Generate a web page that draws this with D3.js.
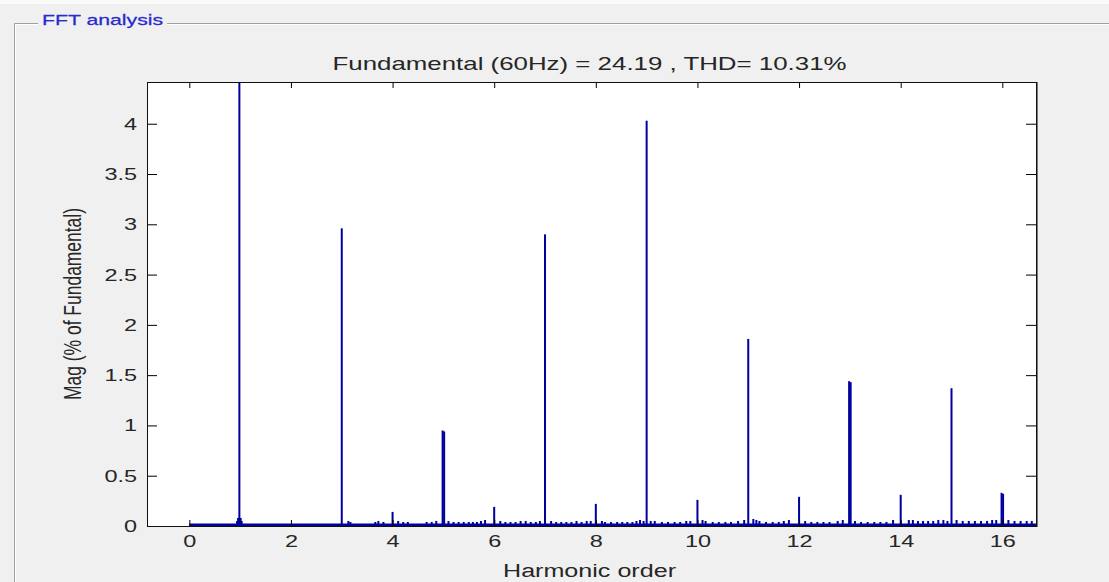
<!DOCTYPE html>
<html><head><meta charset="utf-8">
<script src="https://cdn.jsdelivr.net/npm/d3@7"></script>
<style>html,body{margin:0;padding:0;background:#f0f0f0;overflow:hidden}</style>
</head><body><svg id="c" width="1109" height="582"></svg>
<script>
// ---- data ----
const panelTitle = "FFT analysis";
const titleText = "Fundamental (60Hz) = 24.19 , THD= 10.31%";
const xLabel = "Harmonic order";
const yLabel = "Mag (% of Fundamental)";
const xTickValues = [0, 2, 4, 6, 8, 10, 12, 14, 16];
const yTickValues = [0, 0.5, 1, 1.5, 2, 2.5, 3, 3.5, 4];
const yTickLabels = ["0", "0.5", "1", "1.5", "2", "2.5", "3", "3.5", "4"];
const xLimits = [-0.833, 16.663];
const yLimits = [0, 4.415];

// main harmonic lines (% of fundamental)
const harmonicOrders = [0.985, 3, 4, 4.985, 5.015, 6, 7, 8, 9, 10, 11, 12, 12.985, 13.015, 14, 15, 15.985, 16.015];
const harmonicMags   = [100, 2.96, 0.14, 0.95, 0.94, 0.19, 2.90, 0.22, 4.03, 0.26, 1.86, 0.29, 1.44, 1.43, 0.31, 1.37, 0.33, 0.32];

// leakage around the fundamental
const leakageOrders = [0.94, 0.96, 1.01, 1.03];
const leakageMags   = [0.05, 0.08, 0.08, 0.05];

// small interharmonic components
const noiseOrders = [
  3.13, 3.17, 3.66, 3.72, 3.82,
  4.11, 4.21, 4.30, 4.67, 4.77, 4.86,
  5.10, 5.20, 5.30, 5.40, 5.50, 5.58, 5.66, 5.74, 5.82,
  6.12, 6.22, 6.32, 6.42, 6.52, 6.62, 6.72, 6.82, 6.90,
  7.12, 7.22, 7.32, 7.42, 7.52, 7.62, 7.72, 7.82, 7.90,
  8.12, 8.18, 8.30, 8.42, 8.52, 8.62, 8.72, 8.80, 8.87, 8.94,
  9.08, 9.16, 9.30, 9.42, 9.55, 9.66, 9.78, 9.86,
  10.10, 10.16, 10.30, 10.42, 10.55, 10.66, 10.80, 10.92,
  11.10, 11.16, 11.22, 11.35, 11.48, 11.60, 11.70, 11.80,
  12.12, 12.24, 12.36, 12.48, 12.60, 12.76, 12.86,
  13.10, 13.22, 13.35, 13.48, 13.60, 13.72, 13.85,
  14.16, 14.24, 14.34, 14.44, 14.54, 14.64, 14.74, 14.84, 14.92,
  15.10, 15.22, 15.34, 15.46, 15.58, 15.70, 15.80, 15.88,
  16.12, 16.24, 16.36, 16.48, 16.58
];
const noiseMags = [
  0.05, 0.04, 0.04, 0.05, 0.04,
  0.05, 0.04, 0.04, 0.04, 0.04, 0.05,
  0.05, 0.04, 0.04, 0.04, 0.04, 0.04, 0.04, 0.05, 0.06,
  0.05, 0.04, 0.04, 0.04, 0.05, 0.05, 0.04, 0.04, 0.05,
  0.05, 0.04, 0.04, 0.04, 0.04, 0.05, 0.04, 0.05, 0.05,
  0.05, 0.04, 0.04, 0.04, 0.04, 0.04, 0.04, 0.05, 0.06, 0.05,
  0.05, 0.05, 0.04, 0.04, 0.04, 0.04, 0.05, 0.05,
  0.06, 0.05, 0.04, 0.04, 0.04, 0.04, 0.05, 0.06,
  0.07, 0.06, 0.05, 0.04, 0.04, 0.04, 0.05, 0.06,
  0.05, 0.04, 0.04, 0.04, 0.04, 0.05, 0.06,
  0.05, 0.04, 0.04, 0.04, 0.04, 0.04, 0.06,
  0.06, 0.06, 0.05, 0.05, 0.05, 0.05, 0.06, 0.06, 0.05,
  0.06, 0.05, 0.05, 0.05, 0.05, 0.05, 0.06, 0.06,
  0.06, 0.05, 0.05, 0.05, 0.05
];

// ---- layout ----
const svg = d3.select("#c");
const plot = {left: 147, top: 82, right: 1036, bottom: 526};
const SX = 1.38;          // horizontal stretch of the captured text
const FONT = "'Liberation Sans', Arial, sans-serif";
const BLUE = "#00009c";
const INK = "#262626";

// top white strip & group box
svg.append("rect").attr("x", 0).attr("y", 0).attr("width", 1109).attr("height", 4).attr("fill", "#fafafa");
const gb = svg.append("g").attr("fill", "none");
gb.append("path").attr("d", "M14.5,582 V23.5 H38 M167,23.5 H1109").attr("stroke", "#a0a0a0");
gb.append("path").attr("d", "M15.5,582 V24.5 H38 M167,24.5 H1109").attr("stroke", "#ffffff");
svg.append("text").text(panelTitle)
  .attr("transform", `translate(42,25) scale(${SX},1)`)
  .attr("font-family", FONT).attr("font-size", 15.4).attr("fill", "#2a2acd")
  .attr("stroke", "#2a2acd").attr("stroke-width", 0.25);

const x = d3.scaleLinear().domain(xLimits).range([plot.left, plot.right]);
const y = d3.scaleLinear().domain(yLimits).range([plot.bottom, plot.top]);

svg.append("rect").attr("x", plot.left).attr("y", plot.top)
  .attr("width", plot.right - plot.left).attr("height", plot.bottom - plot.top).attr("fill", "#fff");

svg.append("clipPath").attr("id", "clip").append("rect")
  .attr("x", plot.left).attr("y", plot.top).attr("width", plot.right - plot.left).attr("height", plot.bottom - plot.top);

const marks = svg.append("g").attr("clip-path", "url(#clip)");

// baseline of the bar series
marks.append("rect").attr("x", x(0)).attr("y", y(0) - 2.5)
  .attr("width", x(xLimits[1]) - x(0)).attr("height", 2.5).attr("fill", BLUE);

function stems(orders, mags) {
  const data = orders.map((o, i) => ({o, m: mags[i]}));
  marks.append("g").selectAll("rect").data(data).join("rect")
    .attr("x", d => x(d.o) - 1)
    .attr("width", 2)
    .attr("y", d => y(Math.min(d.m, yLimits[1] + 0.1)))
    .attr("height", d => y(0) - y(Math.min(d.m, yLimits[1] + 0.1)))
    .attr("fill", BLUE);
}
stems(noiseOrders, noiseMags);
stems(leakageOrders, leakageMags);
stems(harmonicOrders, harmonicMags);

// axes (ticks inside)
function styleAxis(g) {
  g.select(".domain").remove();
  g.selectAll(".tick line").attr("stroke", "#000");
  g.selectAll("text").attr("font-family", FONT).attr("font-size", 17).attr("fill", INK);
}
const gx = svg.append("g").attr("transform", `translate(0,${plot.bottom})`)
  .call(d3.axisBottom(x).tickValues(xTickValues).tickSizeInner(-6).tickSizeOuter(0).tickPadding(9).tickFormat(d3.format("d")));
styleAxis(gx);
gx.selectAll("text").attr("transform", `scale(${SX},1)`);

const gxt = svg.append("g").attr("transform", `translate(0,${plot.top})`)
  .call(d3.axisTop(x).tickValues(xTickValues).tickSizeInner(-6).tickSizeOuter(0).tickFormat(""));
styleAxis(gxt);

const gy = svg.append("g").attr("transform", `translate(${plot.left},0)`)
  .call(d3.axisLeft(y).tickValues(yTickValues).tickSizeInner(-10).tickSizeOuter(0).tickPadding(10)
    .tickFormat((d, i) => yTickLabels[i]));
styleAxis(gy);
gy.selectAll("text").attr("transform", `translate(-10,0) scale(${SX},1) translate(10,0)`);

const gyr = svg.append("g").attr("transform", `translate(${plot.right},0)`)
  .call(d3.axisRight(y).tickValues(yTickValues).tickSizeInner(-10).tickSizeOuter(0).tickFormat(""));
styleAxis(gyr);

// frame
svg.append("rect").attr("x", plot.left + 0.5).attr("y", plot.top + 0.5)
  .attr("width", plot.right - plot.left).attr("height", plot.bottom - plot.top)
  .attr("fill", "none").attr("stroke", "#111");
svg.append("line").attr("x1", plot.right + 1.5).attr("x2", plot.right + 1.5)
  .attr("y1", plot.top).attr("y2", plot.bottom + 1).attr("stroke", "#777");

// titles
svg.append("text").text(titleText)
  .attr("transform", `translate(${(plot.left + plot.right) / 2 - 2},70) scale(${SX},1)`)
  .attr("text-anchor", "middle").attr("font-family", FONT).attr("font-size", 18.5).attr("fill", INK)
  .attr("textLength", 514 / SX).attr("lengthAdjust", "spacingAndGlyphs");
svg.append("text").text(xLabel)
  .attr("transform", `translate(${(plot.left + plot.right) / 2 - 2},577) scale(${SX},1)`)
  .attr("text-anchor", "middle").attr("font-family", FONT).attr("font-size", 18).attr("fill", INK)
  .attr("textLength", 173 / SX).attr("lengthAdjust", "spacingAndGlyphs");
svg.append("text").text(yLabel)
  .attr("transform", `translate(81,${(plot.top + plot.bottom) / 2}) scale(${SX},1) rotate(-90)`)
  .attr("text-anchor", "middle").attr("font-family", FONT).attr("font-size", 17.5).attr("fill", INK)
  .attr("textLength", 192).attr("lengthAdjust", "spacingAndGlyphs");
</script></body></html>
